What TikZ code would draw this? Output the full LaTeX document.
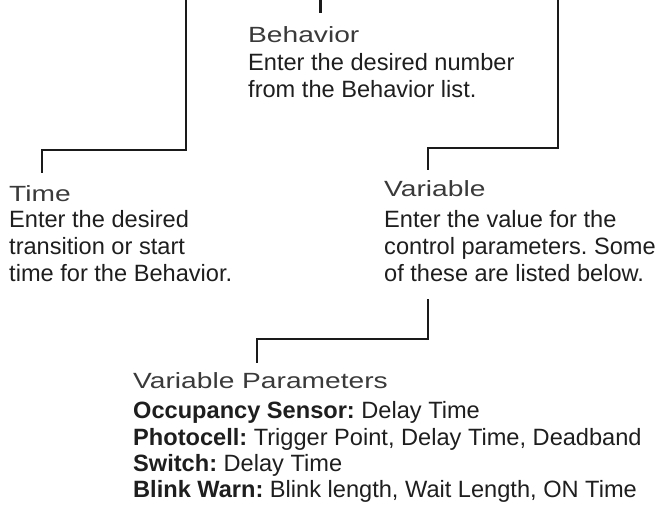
\documentclass[tikz,border=0pt]{standalone}
\usepackage{fontspec}
\setmainfont{Liberation Sans}
\newfontfamily\ttlfont[FakeStretch=1.28]{Liberation Sans}
\definecolor{bodyc}{HTML}{1E1E1E}
\definecolor{titlec}{HTML}{3A3A3A}
\definecolor{linec}{HTML}{1A1A1A}
\frenchspacing
\tikzset{
  body/.style={anchor=base west, inner sep=0pt, text=bodyc, font=\frenchspacing\fontsize{23.6}{28}\selectfont},
  ttl/.style={anchor=base west, inner sep=0pt, text=titlec, font=\ttlfont\fontsize{22}{26}\selectfont},
  conn/.style={draw=linec, line width=2.6pt}
}
\begin{document}
\begin{tikzpicture}[x=1pt,y=-1pt]
\useasboundingbox (0,0) rectangle (655,518);
% Behavior
\node[ttl]  (bt) at (248,43) {Behavior};
\node[body] (b1) at (248,71) {Enter the desired number};
\node[body] (b2) at (248,98) {from the Behavior list.};
% Time
\node[ttl]  (tt) at (9,202) {Time};
\node[body] (t1) at (9,228) {Enter the desired};
\node[body] (t2) at (9,255) {transition or start};
\node[body] (t3) at (9,281) {time for the Behavior.};
% Variable
\node[ttl]  (vt) at (384,197) {Variable};
\node[body] (v1) at (384,228) {Enter the value for the};
\node[body] (v2) at (384,255) {control parameters. Some};
\node[body] (v3) at (384,281) {of these are listed below.};
% Variable Parameters
\node[ttl]  (pt) at (133,388) {Variable Parameters};
\node[body] (p1) at (133,418) {\textbf{Occupancy Sensor:} Delay Time};
\node[body] (p2) at (133,445) {\textbf{Photocell:} Trigger Point, Delay Time, Deadband};
\node[body] (p3) at (133,471) {\textbf{Switch:} Delay Time};
\node[body] (p4) at (133,497) {\textbf{Blink Warn:} Blink length, Wait Length, ON Time};
% connector coordinates
\coordinate (ta) at (186,-3);
\coordinate (tb) at (42,150);
\coordinate (tc) at (42,173);
\coordinate (ba) at (320.5,-3);
\coordinate (bb) at (320.5,13);
\coordinate (va) at (558,-3);
\coordinate (vb) at (428,148);
\coordinate (vc) at (428,170);
\coordinate (pa) at (428,299);
\coordinate (pb) at (257,339);
\coordinate (pc) at (257,363);
\draw[conn] (ta) |- (tb) -- (tc);
\draw[conn] (ba) -- (bb);
\draw[conn] (va) |- (vb) -- (vc);
\draw[conn] (pa) |- (pb) -- (pc);
\end{tikzpicture}
\end{document}
